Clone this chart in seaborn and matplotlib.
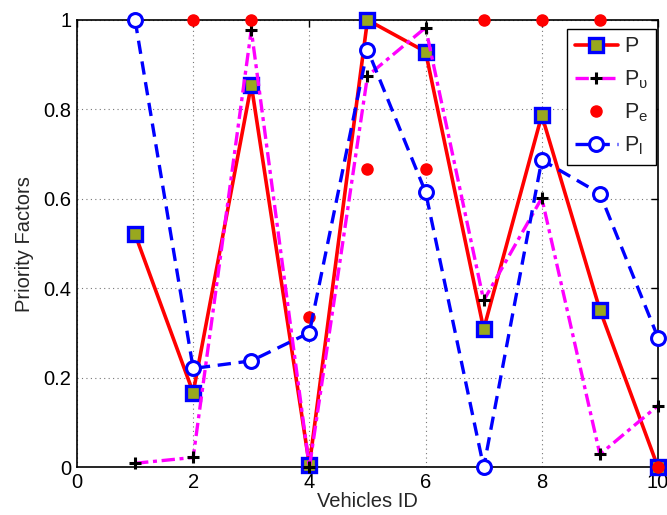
import numpy as np
import pandas as pd
import matplotlib
matplotlib.use("Agg")
import matplotlib.pyplot as plt
import seaborn as sns
from matplotlib.lines import Line2D

vehicles = [1, 2, 3, 4, 5, 6, 7, 8, 9, 10]
p_total = [0.521, 0.167, 0.855, 0.005, 1.0, 0.929, 0.309, 0.787, 0.352, 0.0]
p_upsilon = [0.009, 0.022, 0.978, 0.0, 0.875, 0.983, 0.373, 0.602, 0.029, 0.138]
p_e = [1.0, 1.0, 1.0, 0.335, 0.667, 0.667, 1.0, 1.0, 1.0, 0.0]
p_l = [1.0, 0.221, 0.238, 0.301, 0.934, 0.615, 0.0, 0.687, 0.612, 0.29]

x_ticks = [0, 2, 4, 6, 8, 10]
y_ticks = [0, 0.2, 0.4, 0.6, 0.8, 1.0]
y_tick_labels = ["0", "0.2", "0.4", "0.6", "0.8", "1"]
labels = ["P", r"P$_{\mathrm{\upsilon}}$", r"P$_{\mathrm{e}}$", r"P$_{\mathrm{l}}$"]

sns.set_theme(style="white")
plt.rcParams["font.family"] = ["Liberation Sans", "DejaVu Sans"]
plt.rcParams["mathtext.fontset"] = "custom"
plt.rcParams["mathtext.rm"] = "Liberation Sans"
plt.rcParams["mathtext.it"] = "Liberation Sans:italic"
plt.rcParams["mathtext.bf"] = "Liberation Sans:bold"

fig = plt.figure(figsize=(6.67, 5.15), dpi=100)
ax = fig.add_axes([0.1154, 0.0926, 0.8711, 0.8686])

olive = "#99A81E"
df = pd.DataFrame({"x": vehicles, "P": p_total, "Pv": p_upsilon, "Pe": p_e, "Pl": p_l})

sns.lineplot(data=df, x="x", y="P", ax=ax, color="#FF0000", lw=2.6, marker="s",
             markersize=10, markerfacecolor=olive, markeredgecolor="#0000FF",
             markeredgewidth=2.4, clip_on=False, zorder=3)
sns.lineplot(data=df, x="x", y="Pv", ax=ax, color="#FF00FF", lw=2.4, linestyle="-.",
             dashes=False, marker="+", markersize=9, markeredgecolor="black",
             markerfacecolor="black", markeredgewidth=2.2, clip_on=False, zorder=4)
ax.plot(df["x"], df["Pe"], linestyle="none", marker="o", markersize=8,
        color="#FF0000", markeredgecolor="#FF0000", clip_on=False, zorder=5)
sns.lineplot(data=df, x="x", y="Pl", ax=ax, color="#0000FF", lw=2.4, linestyle="--",
             marker="o", markersize=10, markerfacecolor="white",
             markeredgecolor="#0000FF", markeredgewidth=2.2, clip_on=False, zorder=6)
for ln in ax.lines:
    if ln.get_linestyle() == "--":
        ln.set_dashes([4, 2.3])
    elif ln.get_linestyle() == "-.":
        ln.set_dashes([4, 1.4, 1.2, 1.4])

ax.set_xlim(0, 10)
ax.set_ylim(0, 1)
ax.set_xticks(x_ticks)
ax.set_yticks(y_ticks)
ax.set_yticklabels(y_tick_labels)
ax.tick_params(direction="in", length=5, width=1, labelsize=14.5, colors="black",
               top=True, right=True, pad=4)
ax.grid(True, linestyle=(0, (1, 3)), color="#777777", linewidth=0.8)
for s in ax.spines.values():
    s.set_color("black")
    s.set_linewidth(1.2)
ax.set_xlabel("Vehicles ID", fontsize=14.5, labelpad=0)
ax.set_ylabel("Priority Factors", fontsize=14.5, labelpad=7)

handles = [
    Line2D([], [], color="#FF0000", lw=2.6, marker="s", markersize=10,
           markerfacecolor=olive, markeredgecolor="#0000FF", markeredgewidth=2.4),
    Line2D([], [], color="#FF00FF", lw=2.4, linestyle="-.", marker="+", markersize=9,
           markeredgecolor="black", markeredgewidth=2.2),
    Line2D([], [], linestyle="none", marker="o", markersize=8, color="#FF0000"),
    Line2D([], [], color="#0000FF", lw=2.4, linestyle="--", marker="o", markersize=10,
           markerfacecolor="white", markeredgecolor="#0000FF", markeredgewidth=2.2),
]
handles[1].set_dashes([4, 1.4, 1.2, 1.4])
handles[3].set_dashes([4, 2.3])
leg = ax.legend(handles, labels, loc="upper right", bbox_to_anchor=(1.0, 0.985),
                fontsize=15.5, frameon=True, fancybox=False, edgecolor="black",
                framealpha=1, borderaxespad=0.1, handlelength=2.0, labelspacing=0.5,
                handletextpad=0.3, borderpad=0.35)
leg.get_frame().set_linewidth(1.0)
leg.set_zorder(10)

fig.savefig("out.png", dpi=100)
